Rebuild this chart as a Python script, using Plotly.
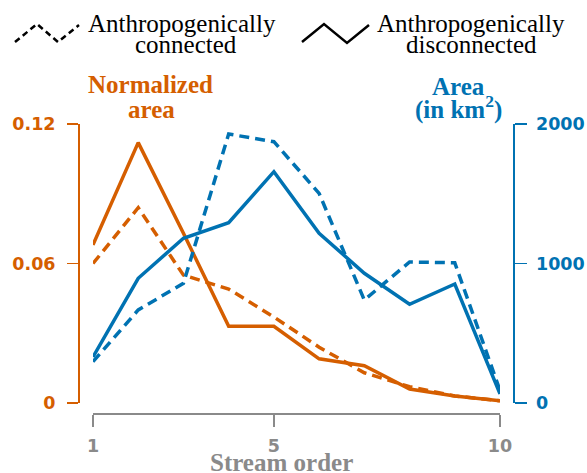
import plotly.graph_objects as go

# ---- data ----
stream_order = [1, 2, 3, 4, 5, 6, 7, 8, 9, 10]
norm_connected = [0.060, 0.084, 0.055, 0.049, 0.037, 0.024, 0.013, 0.007, 0.003, 0.001]
norm_disconnected = [0.068, 0.112, 0.073, 0.033, 0.033, 0.019, 0.016, 0.006, 0.003, 0.001]
area_connected = [296, 667, 858, 1928, 1873, 1503, 738, 1011, 1005, 90]
area_disconnected = [330, 894, 1181, 1293, 1658, 1217, 930, 708, 853, 65]
x_ticks = [1, 5, 10]
left_ticks = [0, 0.06, 0.12]
left_ticktext = ["0", "0.06", "0.12"]
right_ticks = [0, 1000, 2000]
right_ticktext = ["0", "1000", "2000"]

ORANGE = "#D55E00"
BLUE = "#0072B2"
GRAY = "#8a8a8a"
W, H = 587, 473
L, R, T, B = 78, 74, 124, 60
PW, PH = W - L - R, H - T - B


def px(x):
    return (x - L) / PW


def py(y):
    return (H - B - y) / PH


fig = go.Figure()
fig.add_trace(go.Scatter(x=stream_order, y=area_connected, yaxis="y2", mode="lines",
                         line=dict(color=BLUE, width=3.5, dash="10px,6px")))
fig.add_trace(go.Scatter(x=stream_order, y=area_disconnected, yaxis="y2", mode="lines",
                         line=dict(color=BLUE, width=3.5)))
fig.add_trace(go.Scatter(x=stream_order, y=norm_connected, yaxis="y", mode="lines",
                         line=dict(color=ORANGE, width=3.5, dash="10px,6px")))
fig.add_trace(go.Scatter(x=stream_order, y=norm_disconnected, yaxis="y", mode="lines",
                         line=dict(color=ORANGE, width=3.5)))

tickfont = dict(family="DejaVu Sans", size=17.5, weight="bold")
fig.update_layout(
    width=W, height=H,
    margin=dict(l=L, r=R, t=T, b=B, pad=0, autoexpand=False),
    paper_bgcolor="white", plot_bgcolor="white",
    showlegend=False, hovermode=False,
    xaxis=dict(domain=[px(93), px(500)], range=[1, 10], anchor="free", position=0,
               automargin=False,
               showline=True, linecolor=GRAY, linewidth=1.5, showgrid=False, zeroline=False,
               ticks="outside", ticklen=12, tickwidth=1.5, tickcolor=GRAY,
               tickvals=x_ticks, ticktext=[str(v) for v in x_ticks],
               tickfont=dict(color=GRAY, **tickfont), ticklabelstandoff=4),
    yaxis=dict(domain=[py(403), 1], range=[0, 0.12], anchor="free", position=0,
               automargin=False,
               showline=True, linecolor=ORANGE, linewidth=1.5, showgrid=False, zeroline=False,
               ticks="outside", ticklen=11, tickwidth=1.5, tickcolor=ORANGE,
               tickvals=left_ticks, ticktext=left_ticktext,
               tickfont=dict(color=ORANGE, **tickfont), ticklabelstandoff=8),
    yaxis2=dict(domain=[py(403), 1], range=[0, 2000], anchor="free", position=1,
                automargin=False, overlaying="y", side="right",
                showline=True, linecolor=BLUE, linewidth=1.5, showgrid=False, zeroline=False,
                ticks="outside", ticklen=12, tickwidth=1.5, tickcolor=BLUE,
                tickvals=right_ticks, ticktext=right_ticktext,
                tickfont=dict(color=BLUE, **tickfont), ticklabelstandoff=6),
)

serif = "Liberation Serif"


def text(t, xc, baseline, size, color, bold=False):
    fig.add_annotation(text=t, xref="paper", yref="paper", x=px(xc), y=py(baseline - 0.335 * size),
                       xanchor="center", yanchor="middle", showarrow=False,
                       font=dict(family=serif, size=size, color=color,
                                 weight="bold" if bold else "normal"))


# legend texts
text("Anthropogenically", 182, 32, 25, "black")
text("connected", 186, 53, 25, "black")
text("Anthropogenically", 471, 32, 25, "black")
text("disconnected", 471, 53, 25, "black")
# axis titles
text("Normalized", 150, 93, 25, ORANGE, True)
text("area", 151, 118, 25, ORANGE, True)
text("Area", 458, 95, 25, BLUE, True)
text("(in km<sup>2</sup>)", 458, 116, 25, BLUE, True)
text("Stream order", 281, 471, 25, GRAY, True)


def zig(points):
    return "M " + " L ".join(f"{px(x)},{py(y)}" for x, y in points)


fig.add_shape(type="path", xref="paper", yref="paper",
              path=zig([(15, 42), (37, 24), (58, 42), (79, 25)]),
              line=dict(color="black", width=2.5, dash="6px,4px"))
fig.add_shape(type="path", xref="paper", yref="paper",
              path=zig([(302, 42), (324, 24), (347, 43), (369, 25)]),
              line=dict(color="black", width=2.5))

fig.write_html("out.html", config={"displayModeBar": False, "staticPlot": True},
               post_script="document.body.style.margin='0';document.body.style.overflow='hidden';")
